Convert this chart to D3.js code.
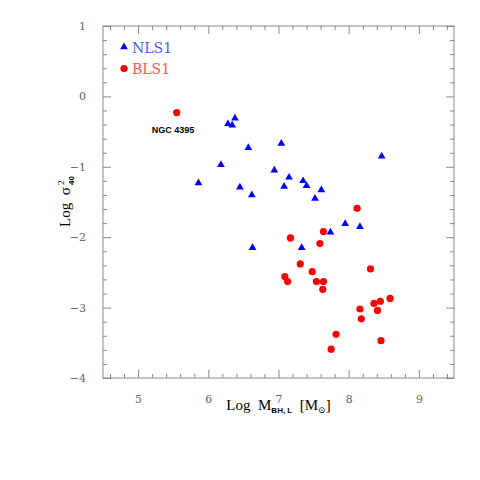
<!DOCTYPE html>
<html>
<head>
<meta charset="utf-8">
<script src="https://cdn.jsdelivr.net/npm/d3@7"></script>
<style>
  body { margin: 0; background: #fff; }
  svg { display: block; }
  .pre { white-space: pre; }
</style>
</head>
<body>
<svg id="chart" width="480" height="480"></svg>
<script>
// NLS1 (triangles): log M_BH,L and log sigma^2_40
const nlsMass = [6.38, 6.28, 6.34, 6.57, 7.04, 6.18, 5.86, 6.45, 6.62, 6.94, 7.15,
    7.08, 7.35, 7.40, 7.61, 7.52, 8.47, 7.95, 8.16, 7.74, 7.33, 6.63];
const nlsSigma = [-0.31, -0.39, -0.41, -0.73, -0.67, -0.97, -1.23, -1.29, -1.40, -1.05, -1.15,
    -1.28, -1.20, -1.27, -1.33, -1.45, -0.85, -1.81, -1.85, -1.93, -2.15, -2.15];

// BLS1 (circles)
const blsMass = [5.55, 8.12, 7.64, 7.17, 7.59, 7.31, 8.31, 7.48, 7.09, 7.13, 7.54,
    7.64, 7.63, 8.59, 8.36, 8.45, 8.16, 8.41, 8.18, 7.82, 8.46, 7.75];
const blsSigma = [-0.23, -1.59, -1.92, -2.01, -2.09, -2.38, -2.45, -2.49, -2.56, -2.63, -2.63,
    -2.63, -2.74, -2.87, -2.94, -2.91, -3.02, -3.04, -3.16, -3.38, -3.47, -3.59];

const xTicks = [5, 6, 7, 8, 9];
const yTicks = [1, 0, -1, -2, -3, -4];
const seriesNames = ['NLS1', 'BLS1'];

const margin = { top: 26, left: 103, right: 26, bottom: 102 };
const width = 480, height = 480;
const chartWidth = width - margin.left - margin.right;
const chartHeight = height - margin.top - margin.bottom;

const svg = d3.select('#chart');
const g = svg.append('g').attr('transform', `translate(${margin.left},${margin.top})`);

const x = d3.scaleLinear().domain([4.5, 9.5]).range([0, chartWidth]);
const y = d3.scaleLinear().domain([-4, 1]).range([chartHeight, 0]);

const minorX = d3.range(4.6, 9.5, 0.2).map(v => +v.toFixed(1)).filter(v => !xTicks.includes(v));
const minorY = d3.range(-3.8, 1, 0.2).map(v => +v.toFixed(1)).filter(v => !yTicks.includes(v));

const axisColor = '#888';
const fmt = d => (d < 0 ? '\u2212' + Math.abs(d) : d);

function styleAxis(sel) {
    sel.select('.domain').remove();
    sel.selectAll('line').attr('stroke', axisColor).attr('stroke-width', 1);
    sel.selectAll('text')
        .attr('fill', '#666')
        .style('font-family', '"DejaVu Serif", "Liberation Serif", serif')
        .style('font-size', '11px');
}

// major + minor ticks on all four sides, pointing inward
const sides = [
    { axis: d3.axisBottom, scale: x, major: xTicks, minor: minorX, t: `translate(0,${chartHeight})`, labels: true },
    { axis: d3.axisTop, scale: x, major: xTicks, minor: minorX, t: 'translate(0,0)', labels: false },
    { axis: d3.axisLeft, scale: y, major: yTicks, minor: minorY, t: 'translate(0,0)', labels: true },
    { axis: d3.axisRight, scale: y, major: yTicks, minor: minorY, t: `translate(${chartWidth},0)`, labels: false }
];

sides.forEach(s => {
    g.append('g')
        .attr('transform', s.t)
        .call(s.axis(s.scale).tickValues(s.minor).tickSize(-4).tickFormat(''))
        .call(styleAxis);
    g.append('g')
        .attr('transform', s.t)
        .call(s.axis(s.scale).tickValues(s.major).tickSize(-8).tickPadding(s.labels ? 17 : 0)
            .tickFormat(s.labels ? fmt : ''))
        .call(styleAxis);
});

g.append('rect')
    .attr('width', chartWidth)
    .attr('height', chartHeight)
    .attr('fill', 'none')
    .attr('stroke', axisColor)
    .attr('stroke-width', 1);

const tri = d3.symbol().type(d3.symbolTriangle).size(26);

g.selectAll('path.nls')
    .data(d3.zip(nlsMass, nlsSigma))
    .join('path')
    .attr('class', 'nls')
    .attr('d', tri)
    .attr('transform', d => `translate(${x(d[0])},${y(d[1])})`)
    .attr('fill', '#0000ff');

g.selectAll('circle.bls')
    .data(d3.zip(blsMass, blsSigma))
    .join('circle')
    .attr('class', 'bls')
    .attr('cx', d => x(d[0]))
    .attr('cy', d => y(d[1]))
    .attr('r', 3.6)
    .attr('fill', '#ff0000');

// NGC 4395 label under the isolated BLS1 point
g.append('text')
    .attr('x', x(blsMass[0]) - 25)
    .attr('y', y(blsSigma[0]) + 20)
    .attr('fill', '#000')
    .style('font-family', '"Liberation Sans", Arial, sans-serif')
    .style('font-weight', 'bold')
    .style('font-size', '9px')
    .text('NGC 4395');

// legend
const legend = g.append('g').attr('transform', 'translate(21,21)');
legend.append('path')
    .attr('d', tri)
    .attr('fill', '#0000ff');
legend.append('circle')
    .attr('cy', 21.5)
    .attr('r', 3.6)
    .attr('fill', '#ff0000');
legend.selectAll('text')
    .data(seriesNames)
    .join('text')
    .attr('x', 8)
    .attr('y', (d, i) => 5.5 + i * 21.5)
    .attr('fill', (d, i) => (i === 0 ? '#5555ff' : '#ff5555'))
    .style('font-family', '"DejaVu Serif", "Liberation Serif", serif')
    .style('font-size', '14px')
    .text(d => d);

// x axis title
const serif = '"Liberation Serif", "DejaVu Serif", serif';
const sans = '"Liberation Sans", Arial, sans-serif';
const xTitle = svg.append('text')
    .attr('class', 'pre')
    .attr('x', margin.left + chartWidth / 2)
    .attr('y', 410)
    .attr('text-anchor', 'middle')
    .style('font-family', serif)
    .style('font-size', '15px')
    .attr('fill', '#000');
xTitle.append('tspan').text('Log  M');
xTitle.append('tspan').attr('dy', 3).style('font-size', '8px')
    .style('font-family', sans).style('font-weight', 'bold').text('BH, L');
xTitle.append('tspan').attr('dy', -3).text('  [M');
xTitle.append('tspan').attr('dy', 3).style('font-size', '9px').text('\u2299');
xTitle.append('tspan').attr('dy', -3).text(']');

// y axis title
const yTitle = svg.append('g')
    .attr('transform', `translate(70,${margin.top + chartHeight / 2}) rotate(-90)`);
yTitle.append('text')
    .attr('class', 'pre')
    .attr('x', -25)
    .attr('y', 0)
    .style('font-family', serif)
    .style('font-size', '15px')
    .attr('fill', '#000')
    .text('Log  \u03c3');
yTitle.append('text')
    .attr('x', 17)
    .attr('y', -6)
    .style('font-family', serif)
    .style('font-size', '9px')
    .attr('fill', '#000')
    .text('2');
yTitle.append('text')
    .attr('x', 17)
    .attr('y', 4)
    .style('font-family', sans)
    .style('font-weight', 'bold')
    .style('font-size', '8px')
    .attr('fill', '#000')
    .text('40');
</script>
</body>
</html>
